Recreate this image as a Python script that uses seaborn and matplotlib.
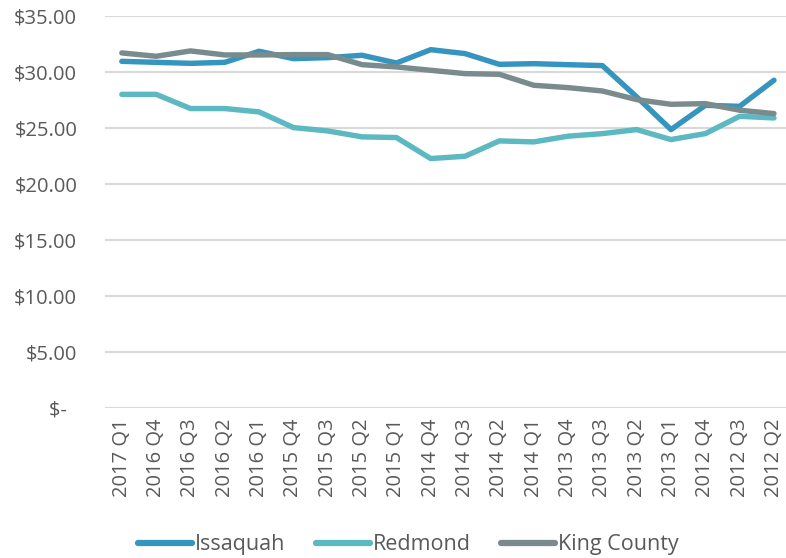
import matplotlib
matplotlib.use("Agg")
import matplotlib.pyplot as plt
import seaborn as sns
import pandas as pd

quarters = ["2017 Q1", "2016 Q4", "2016 Q3", "2016 Q2", "2016 Q1", "2015 Q4",
            "2015 Q3", "2015 Q2", "2015 Q1", "2014 Q4", "2014 Q3", "2014 Q2",
            "2014 Q1", "2013 Q4", "2013 Q3", "2013 Q2", "2013 Q1", "2012 Q4",
            "2012 Q3", "2012 Q2"]

issaquah = [30.95, 30.86, 30.77, 30.86, 31.85, 31.19, 31.28, 31.49, 30.80, 31.99,
            31.64, 30.68, 30.74, 30.65, 30.57, 27.77, 24.85, 27.02, 26.93, 29.26]
redmond = [28.00, 28.00, 26.73, 26.73, 26.43, 25.03, 24.73, 24.20, 24.14, 22.26,
           22.47, 23.84, 23.75, 24.26, 24.49, 24.85, 23.96, 24.49, 26.04, 25.89]
king_county = [31.70, 31.40, 31.88, 31.52, 31.52, 31.55, 31.55, 30.65, 30.45, 30.15,
               29.85, 29.79, 28.81, 28.60, 28.30, 27.53, 27.11, 27.17, 26.58, 26.28]

series_names = ["Issaquah", "Redmond", "King County"]
series_colors = ["#3595be", "#5cb8c1", "#7a8b8d"]
y_ticks = [0, 5, 10, 15, 20, 25, 30, 35]
y_tick_labels = ["$-  ", "$5.00", "$10.00", "$15.00", "$20.00", "$25.00", "$30.00", "$35.00"]

sns.set_theme(style="white")
plt.rcParams["font.family"] = ["Open Sans", "DejaVu Sans"]
text_color = "#595959"

frames = []
for name, vals in zip(series_names, [issaquah, redmond, king_county]):
    frames.append(pd.DataFrame({"Quarter": quarters, "Rate": vals, "Area": name}))
df = pd.concat(frames, ignore_index=True)

fig = plt.figure(figsize=(7.86, 5.58), dpi=100)
ax = fig.add_axes([105 / 786, 1 - 407.7 / 558, (786 - 105) / 786, (407.7 - 16) / 558])

sns.lineplot(data=df, x="Quarter", y="Rate", hue="Area", hue_order=series_names,
             palette=series_colors, linewidth=3.9, sort=False, ax=ax,
             solid_capstyle="round", solid_joinstyle="round")

n = len(quarters)
ax.set_xlim(-0.49, 19.35)
ax.set_ylim(0, 35)
ax.set_yticks(y_ticks)
ax.set_yticklabels(y_tick_labels)
ax.set_xticks(range(n))
ax.set_xticklabels(quarters, rotation=90)
ax.set_xlabel("")
ax.set_ylabel("")
ax.grid(axis="y", color="#d9d9d9", linewidth=1.5)
ax.set_axisbelow(True)
for s in ax.spines.values():
    s.set_visible(False)
ax.tick_params(axis="both", length=0, labelsize=14.5, labelcolor=text_color)
ax.tick_params(axis="y", pad=20)
ax.tick_params(axis="x", pad=7.5)

leg = ax.legend(loc="center", bbox_to_anchor=(0.4457, -0.3505), ncol=3,
                frameon=False, fontsize=15.5, handlelength=2.5, handletextpad=0.15,
                columnspacing=1.4, labelcolor=text_color)
for line in leg.get_lines():
    line.set_linewidth(4.5)
    line.set_solid_capstyle("round")

fig.savefig("out.png", dpi=100)
